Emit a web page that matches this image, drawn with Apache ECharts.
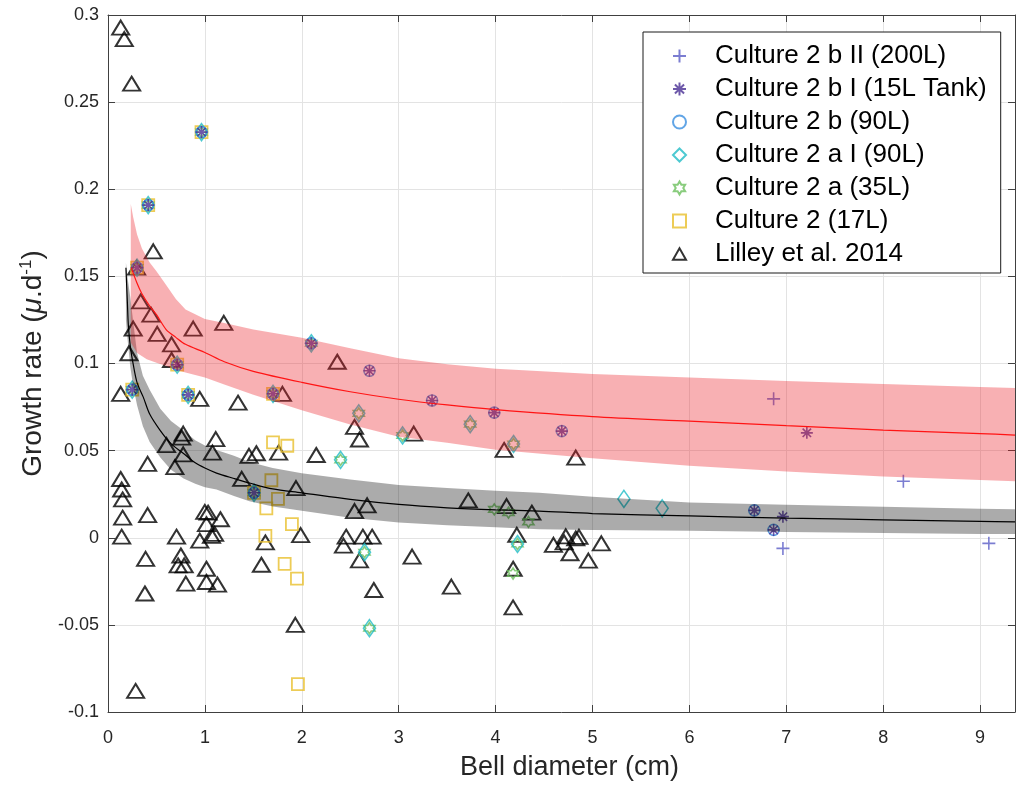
<!DOCTYPE html>
<html><head><meta charset="utf-8">
<script src="https://cdn.jsdelivr.net/npm/echarts@6/dist/echarts.min.js"></script>
<style>html,body{margin:0;padding:0;background:#fff}#c{width:1017px;height:786px}</style>
</head><body><div id="c"></div><script>
// ---------- data ----------
const seriesNames = ['Culture 2 b II (200L)','Culture 2 b I (15L Tank)','Culture 2 b (90L)','Culture 2 a I (90L)','Culture 2 a (35L)','Culture 2 (17L)','Lilley et al. 2014'];

// points shared by the culture lineage (stacked markers)
const sharedEarly = [[0.965,0.2328],[0.415,0.1909],[0.30,0.155],[0.25,0.085],[0.827,0.082],[1.507,0.0258],[0.714,0.0993],[1.703,0.0826]];
const sharedLater = [[2.098,0.1116]];

const squares17L = [[1.703,0.0547],[1.85,0.0528],[1.686,0.033],[1.754,0.0223],[1.634,0.0169],[1.898,0.0078],[1.624,0.0011],[1.823,-0.015],[1.95,-0.0235],[1.96,-0.084]];
const hex35L = [[2.588,0.0714],[3.738,0.0652],[3.04,0.0587],[2.40,0.0447],[2.647,-0.0083],[2.698,-0.0519],[4.226,-0.0036],[4.185,0.0538],[3.986,0.0163],[4.133,0.0144],[4.339,0.0091],[4.18,-0.0205]];
const diamond90L = [[2.588,0.0714],[3.738,0.0652],[3.04,0.0587],[2.40,0.0447],[2.647,-0.0083],[2.698,-0.0519],[4.226,-0.0036],[4.185,0.0538],[5.324,0.0223],[5.719,0.0169]];
const circle90L = [[2.698,0.0958],[3.344,0.0788],[3.986,0.0718],[4.683,0.0612],[6.67,0.0157],[6.869,0.0045]];
const star15L = [[2.698,0.0958],[3.344,0.0788],[3.986,0.0718],[4.683,0.0612],[6.67,0.0157],[6.869,0.0045],[7.212,0.0602],[6.965,0.0121]];
const plus200L = [[6.869,0.0797],[8.208,0.0324],[6.965,-0.0061],[9.09,-0.0032]];

const lilley2014 = [
 [0.131,0.2928],[0.168,0.2862],[0.244,0.2606],[0.467,0.1644],[0.295,0.155],[0.337,0.1356],[0.443,0.128],
 [0.26,0.120],[0.508,0.117],[0.879,0.120],[1.195,0.1233],[0.656,0.111],[0.216,0.1059],[0.656,0.102],
 [0.131,0.0826],[0.947,0.0797],[1.342,0.0775],[1.80,0.0826],[2.366,0.101],[2.544,0.0636],[2.595,0.0564],
 [0.776,0.0598],[0.76,0.0575],[0.604,0.0532],[0.776,0.0479],[1.112,0.0566],[1.078,0.0489],[1.455,0.047],
 [1.531,0.0485],[1.761,0.0489],[2.149,0.0475],[0.409,0.0424],[0.69,0.0405],[0.131,0.0337],[1.38,0.0338],
 [1.94,0.0285],[0.141,0.0277],[0.151,0.022],[0.151,0.0115],[0.141,0.0006],[0.409,0.013],[0.999,0.0148],
 [1.033,0.0144],[1.16,0.0106],[1.016,0.0078],[1.068,0.0011],[1.10,0.0022],[0.947,-0.0017],[0.707,0.0006],
 [0.388,-0.0121],[0.752,-0.0102],[0.724,-0.0159],[0.786,-0.0159],[1.016,-0.0178],[0.803,-0.0263],
 [1.016,-0.0254],[1.13,-0.0269],[0.381,-0.032],[0.285,-0.0879],[1.624,-0.0027],[1.988,0.0015],
 [1.583,-0.0155],[1.933,-0.05],[2.544,0.0153],[2.674,0.0186],[2.458,0.0006],[2.43,-0.0045],[2.63,0.0006],
 [2.726,0.0006],[2.595,-0.013],[2.743,-0.030],[3.155,0.0598],[4.088,0.0504],[4.827,0.046],[3.718,0.0214],
 [4.113,0.0182],[4.374,0.0144],[4.219,0.0017],[3.138,-0.0108],[4.181,-0.0178],[4.597,-0.0041],
 [4.724,0.0008],[4.707,-0.0027],[4.827,-0.0004],[4.86,0.0005],[4.768,-0.0089],[4.957,-0.0131],
 [5.091,-0.0032],[3.543,-0.028],[4.18,-0.040]
];

// fitted curves and their bands (x, y)
const redFit = [[0.24,0.155],[0.3,0.146],[0.35,0.140],[0.43,0.133],[0.5,0.128],[0.6,0.1195],[0.7,0.115],[0.8,0.111],[1.0,0.1063],[1.2,0.101],[1.5,0.0955],[2.0,0.0892],[2.5,0.0838],[3.0,0.0795],[3.5,0.0762],[4.0,0.0735],[5.0,0.0695],[6.0,0.0669],[7.0,0.0643],[8.0,0.0618],[9.0,0.0598],[9.36,0.0589]];
const redUpper = [[0.235,0.1915],[0.26,0.184],[0.3,0.174],[0.35,0.166],[0.43,0.158],[0.5,0.153],[0.6,0.145],[0.7,0.137],[0.8,0.131],[1.0,0.1255],[1.2,0.1232],[1.5,0.1195],[2.0,0.1148],[2.5,0.1088],[3.0,0.1030],[3.5,0.0995],[4.0,0.0970],[5.0,0.0940],[6.0,0.0920],[7.0,0.0900],[8.0,0.0882],[9.0,0.0865],[9.36,0.0860]];
const redLower = [[0.235,0.112],[0.3,0.106],[0.4,0.1025],[0.5,0.1005],[0.6,0.0985],[0.7,0.0965],[0.8,0.0948],[1.0,0.0920],[1.2,0.0880],[1.5,0.0820],[2.0,0.0731],[2.5,0.0650],[3.0,0.0580],[3.5,0.0545],[4.0,0.0505],[5.0,0.0456],[6.0,0.0413],[7.0,0.0380],[8.0,0.0352],[9.0,0.0332],[9.36,0.0324]];

const blackFit = [[0.185,0.155],[0.2,0.135],[0.21,0.122],[0.23,0.110],[0.26,0.0996],[0.3,0.089],[0.364,0.0807],[0.43,0.071],[0.536,0.0618],[0.65,0.054],[0.776,0.0485],[0.9,0.043],[1.0,0.040],[1.12,0.0371],[1.3,0.034],[1.46,0.0314],[1.7,0.028],[2.0,0.0258],[2.5,0.022],[3.0,0.0191],[3.5,0.0172],[4.0,0.0160],[4.45,0.0153],[5.0,0.0139],[6.0,0.0125],[7.0,0.0113],[8.0,0.0103],[9.0,0.0094],[9.36,0.0091]];
const greyUpper = [[0.185,0.158],[0.2,0.150],[0.23,0.138],[0.26,0.124],[0.3,0.106],[0.36,0.093],[0.43,0.085],[0.54,0.074],[0.65,0.067],[0.78,0.0615],[0.9,0.056],[1.0,0.053],[1.12,0.0504],[1.3,0.047],[1.46,0.0435],[1.7,0.040],[2.0,0.037],[2.5,0.0335],[3.0,0.0303],[3.5,0.0285],[4.0,0.0270],[4.45,0.0258],[5.0,0.0235],[6.0,0.0203],[7.0,0.0190],[8.0,0.0178],[9.0,0.0167],[9.36,0.0163]];
const greyLower = [[0.185,0.125],[0.2,0.115],[0.23,0.098],[0.26,0.087],[0.3,0.076],[0.36,0.064],[0.43,0.055],[0.54,0.046],[0.65,0.039],[0.78,0.034],[0.9,0.031],[1.0,0.029],[1.12,0.0277],[1.3,0.024],[1.46,0.021],[1.7,0.018],[2.0,0.0155],[2.5,0.0115],[3.0,0.0087],[3.5,0.0072],[4.0,0.0060],[4.45,0.0049],[5.0,0.0045],[6.0,0.0040],[7.0,0.0033],[8.0,0.0027],[9.0,0.0022],[9.36,0.0021]];

// ---------- chart ----------
const FONT = 'Liberation Sans, Arial, Helvetica, sans-serif';
const P_PLUS = 'path://M5,0 L5,10 M0,5 L10,5';
const P_STAR = 'path://M5,0 L5,10 M0,5 L10,5 M1.5,1.5 L8.5,8.5 M1.5,8.5 L8.5,1.5';
const P_HEX = 'path://M5,0 L6.443,2.5 L9.33,2.5 L7.887,5 L9.33,7.5 L6.443,7.5 L5,10 L3.557,7.5 L0.67,7.5 L2.113,5 L0.67,2.5 L3.557,2.5 Z';
const P_TRI = 'path://M5,0 L10,8.66 L0,8.66 Z';
const CLEAR = 'rgba(0,0,0,0)';

function scatter(name, data, symbol, size, color, bw){
  return {name:name, type:'scatter', data:data, symbol:symbol, symbolSize:size, z:2,
    itemStyle:{color:CLEAR, borderColor:color, borderWidth:bw}, emphasis:{disabled:true}};
}
function band(upper, lower, fill, z){
  return {type:'custom', coordinateSystem:'cartesian2d', xAxisIndex:0, yAxisIndex:0, silent:true, z:z,
    data:[upper[0]],
    renderItem:function(params, api){
      const pts = upper.map(p=>api.coord(p)).concat(lower.slice().reverse().map(p=>api.coord(p)));
      return {type:'polygon', shape:{points:pts}, style:{fill:fill}};
    }};
}
function fitLine(data, color){
  return {type:'line', data:data, showSymbol:false, symbol:'none', smooth:0.3, z:6, silent:true,
    lineStyle:{color:color, width:1.2}};
}

const axisTxt = {color:'#262626', fontFamily:FONT, fontSize:18};
const chart = echarts.init(document.getElementById('c'));
chart.setOption({
  animation:false,
  backgroundColor:'#fff',
  grid:{left:108, right:2, top:15, bottom:68, containLabel:false},
  xAxis:[{type:'value', min:0, max:9.36, interval:1, position:'bottom',
      name:'Bell diameter (cm)', nameLocation:'middle', nameGap:42,
      nameTextStyle:{fontFamily:FONT, fontSize:27, color:'#262626', padding:[0,0,0,16]},
      axisLine:{show:true, onZero:false, lineStyle:{color:'#404040', width:1}},
      axisTick:{show:true, inside:true, length:7, lineStyle:{color:'#404040'}},
      axisLabel:Object.assign({margin:17, showMaxLabel:false}, axisTxt),
      splitLine:{show:true, lineStyle:{color:'#e3e3e3', width:1}}},
    {type:'value', min:0, max:9.36, interval:1, position:'top',
      axisLine:{show:true, onZero:false, lineStyle:{color:'#404040', width:1}},
      axisTick:{show:true, inside:true, length:7, lineStyle:{color:'#404040'}},
      axisLabel:{show:false}, splitLine:{show:false}}],
  yAxis:[{type:'value', min:-0.1, max:0.3, interval:0.05, position:'left',
      name:'{a|Growth rate (}{m|μ}{a|.d}{s|-1}{a|)}', nameLocation:'middle', nameGap:57,
      nameTextStyle:{fontFamily:FONT, fontSize:28, color:'#262626',
        rich:{a:{fontFamily:FONT, fontSize:28, color:'#262626'},
              m:{fontFamily:FONT, fontSize:28, color:'#262626', fontStyle:'italic'},
              s:{fontFamily:FONT, fontSize:17, color:'#262626', padding:[0,0,14,0]}}},
      axisLine:{show:true, onZero:false, lineStyle:{color:'#404040', width:1}},
      axisTick:{show:true, inside:true, length:7, lineStyle:{color:'#404040'}},
      axisLabel:Object.assign({margin:9}, axisTxt),
      splitLine:{show:true, lineStyle:{color:'#e3e3e3', width:1}}},
    {type:'value', min:-0.1, max:0.3, interval:0.05, position:'right',
      axisLine:{show:true, onZero:false, lineStyle:{color:'#404040', width:1}},
      axisTick:{show:true, inside:true, length:7, lineStyle:{color:'#404040'}},
      axisLabel:{show:false}, splitLine:{show:false}}],
  legend:{data:seriesNames, orient:'vertical', left:643, top:32,
    backgroundColor:'#fff', borderColor:'#1a1a1a', borderWidth:1,
    padding:[11,14,6,29], itemGap:7, itemWidth:13, itemHeight:13,
    textStyle:{fontFamily:FONT, fontSize:26, color:'#000', padding:[0,0,0,24]}},
  series:[
    scatter(seriesNames[6], lilley2014, P_TRI, [17,14], '#000', 2),
    scatter(seriesNames[5], sharedEarly.concat(squares17L), 'rect', 12, '#e8bf2c', 1.8),
    scatter(seriesNames[4], sharedEarly.concat(sharedLater, hex35L), P_HEX, 11, '#6cbf5c', 1.6),
    scatter(seriesNames[3], sharedEarly.concat(sharedLater, diamond90L), 'diamond', [12,17], '#20bcc6', 1.6),
    scatter(seriesNames[2], sharedEarly.concat(sharedLater, circle90L), 'circle', 11, '#3a8ee0', 1.6),
    scatter(seriesNames[1], sharedEarly.concat(sharedLater, star15L), P_STAR, 12, '#4a2f95', 1.6),
    scatter(seriesNames[0], plus200L, P_PLUS, 13, '#5a5cc6', 1.6),
    band(greyUpper, greyLower, 'rgba(0,0,0,0.33)', 4),
    band(redUpper, redLower, 'rgba(236,30,36,0.35)', 5),
    fitLine(blackFit, '#000'),
    fitLine(redFit, '#ff1414')
  ]
});
</script></body></html>
